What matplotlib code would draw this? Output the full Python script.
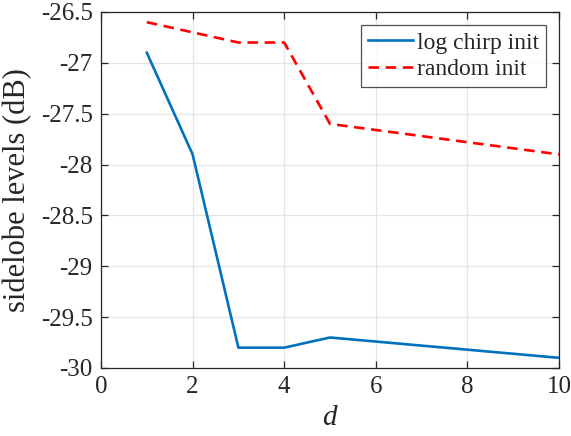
import matplotlib
matplotlib.use("Agg")
import matplotlib.pyplot as plt

d = [1, 2, 3, 4, 5, 10]
log_chirp = [-26.9, -27.9, -29.8, -29.8, -29.7, -29.9]
random_init = [-26.6, -26.7, -26.8, -26.8, -27.6, -27.9]
xticks = [0, 2, 4, 6, 8, 10]
yticks = [-30, -29.5, -29, -28.5, -28, -27.5, -27, -26.5]
ytick_labels = ["-30", "-29.5", "-29", "-28.5", "-28", "-27.5", "-27", "-26.5"]

plt.rcParams['font.family'] = ['Liberation Serif', 'DejaVu Serif']
plt.rcParams['mathtext.fontset'] = 'custom'
plt.rcParams['mathtext.it'] = 'Liberation Serif:italic'

fig = plt.figure(figsize=(5.71, 4.36), dpi=100)
ax = fig.add_axes([101/571, 1-368/436, (559-101)/571, (368-12)/436])

ax.plot(d, log_chirp, color='#0072BD', lw=1.9, label='log chirp init')
ax.plot(d, random_init, color='#FF0000', lw=1.9, ls=(0, (4, 2.5)), label='random init')

ax.set_xlim(0, 10)
ax.set_ylim(-30, -26.5)
ax.set_xticks(xticks)
ax.set_xticklabels([str(v) for v in xticks])
ax.set_yticks(yticks)
ax.set_yticklabels(ytick_labels)
ax.grid(True, color='#E5E5E5', lw=0.9)
ax.set_axisbelow(True)
for s in ax.spines.values():
    s.set_color('#262626')
    s.set_linewidth(0.9)
ax.tick_params(direction='in', top=True, right=True, labelsize=18, colors='#262626', length=5, width=0.9, pad=6)
ax.set_xlabel('$d$', fontsize=21, color='#262626', labelpad=5)
ax.set_ylabel('sidelobe levels (dB)', fontsize=22, color='#262626', labelpad=6)

leg = ax.legend(loc='upper right', fontsize=17, frameon=True, fancybox=False, edgecolor='#262626',
                handlelength=1.9, handletextpad=0.15, borderpad=0.3, labelspacing=0.2,
                borderaxespad=0.55)
leg.get_frame().set_linewidth(0.9)
for t in leg.get_texts():
    t.set_color('#262626')

fig.savefig('out.png', dpi=100)
